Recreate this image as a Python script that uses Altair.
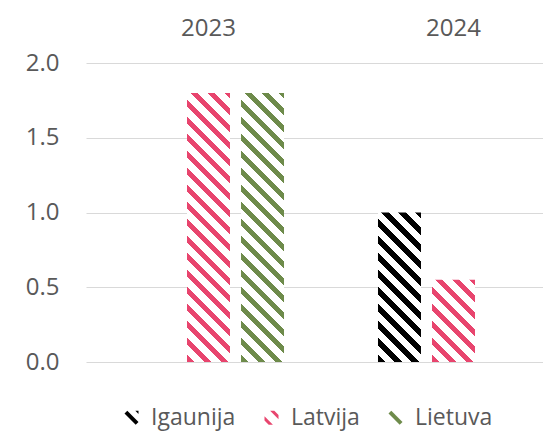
import altair as alt
import pandas as pd

# ---- data ----
years = ["2023", "2023", "2023", "2024", "2024", "2024"]
countries = ["Igaunija", "Latvija", "Lietuva", "Igaunija", "Latvija", "Lietuva"]
values = [None, 1.8, 1.8, 1.0, 0.55, None]

series = ["Igaunija", "Latvija", "Lietuva"]
year_cats = ["2023", "2024"]
colors = ["#000000", "#E8456E", "#6E8B4B"]
y_ticks = [0.0, 0.5, 1.0, 1.5, 2.0]

# legend swatches: small pieces of the diagonal hatch (unit square [-1,1])
symbol_paths = [
    "M-1,-0.6L-0.6,-1L1,0.6L0.6,1Z M0.55,-1L1,-1L1,-0.55Z",
    "M-0.2,-1L0.4,-1L1,-0.4L1,0.2Z M-1,-0.2L0.2,1L-0.4,1L-1,0.4Z",
    "M-1,-0.6L-0.6,-1L1,0.6L0.6,1Z",
]

df = pd.DataFrame({"year": years, "country": countries, "value": values}).dropna()

# ---- layout ----
PLOT_W = 457
PLOT_H = 299
X_RANGE = 490
Y_MAX = 2.0
PI_OFF = 0.204
PO_OFF = 0.870
FONT = "Open Sans"
TXT = "#595959"

step_x = X_RANGE / len(year_cats)
step_o = step_x / (len(series) - PI_OFF + 2 * PO_OFF)
BAR_W = step_o * (1 - PI_OFF)


def hatch(color, w, h, period=17.0, frac=0.42):
    L = w + h
    s = L / (w * w + h * h)
    dp = period / L
    stops = []
    t = 0.0
    while t < 1.0:
        a = t
        b = min(t + frac * dp, 1.0)
        c = min(t + dp, 1.0)
        stops += [
            {"offset": a, "color": color},
            {"offset": b, "color": color},
            {"offset": b, "color": "#ffffff"},
            {"offset": c, "color": "#ffffff"},
        ]
        t += dp
    return alt.LinearGradient(
        gradient="linear", x1=0, y1=1, x2=s * w, y2=1 - s * h, stops=stops
    )


x_enc = alt.X(
    "year:N",
    sort=year_cats,
    scale=alt.Scale(domain=year_cats, range=[0, X_RANGE], paddingInner=0, paddingOuter=0),
    axis=alt.Axis(
        orient="top", title=None, domain=False, ticks=False, grid=False,
        labelAngle=0, labelFont=FONT, labelFontSize=24, labelColor=TXT, labelPadding=23,
    ),
)
xo_enc = alt.XOffset(
    "country:N",
    scale=alt.Scale(domain=series, paddingInner=PI_OFF, paddingOuter=PO_OFF),
)
y_enc = alt.Y(
    "value:Q",
    scale=alt.Scale(domain=[0, Y_MAX]),
    axis=alt.Axis(
        title=None, domain=False, ticks=False, values=y_ticks, format=".1f",
        labelFont=FONT, labelFontSize=24, labelColor=TXT, labelPadding=27,
        grid=True, gridColor="#D9D9D9", gridWidth=1,
    ),
)

legend = alt.Legend(
    title=None, orient="none", direction="horizontal",
    legendX=34, legendY=343, padding=0,
    labelFont=FONT, labelFontSize=23, labelColor=TXT,
    symbolSize=196, symbolOpacity=1, symbolStrokeWidth=0,
    labelOffset=8, columnPadding=24,
)

layers = []
# invisible points carry the legend
layers.append(
    alt.Chart(df).mark_point(filled=True, opacity=0).encode(
        x=x_enc, xOffset=xo_enc, y=y_enc,
        color=alt.Color("country:N", scale=alt.Scale(domain=series, range=colors), legend=legend),
        shape=alt.Shape("country:N", scale=alt.Scale(domain=series, range=symbol_paths), legend=legend),
    )
)

# one hatched bar per data row
for yr, c, v in zip(df["year"], df["country"], df["value"]):
    col = colors[series.index(c)]
    h = v / Y_MAX * PLOT_H
    layers.append(
        alt.Chart(df)
        .transform_filter((alt.datum.year == yr) & (alt.datum.country == c))
        .mark_bar(fill=hatch(col, BAR_W, h))
        .encode(x=x_enc, xOffset=xo_enc, y=y_enc)
    )

chart = (
    alt.layer(*layers)
    .properties(
        width=PLOT_W,
        height=PLOT_H,
        autosize=alt.AutoSizeParams(type="none"),
        padding={"left": 78, "top": 55, "right": 0, "bottom": 69},
        background="white",
    )
    .configure_view(strokeWidth=0)
)

chart.save("out.html", embed_options={"renderer": "svg", "actions": False})
